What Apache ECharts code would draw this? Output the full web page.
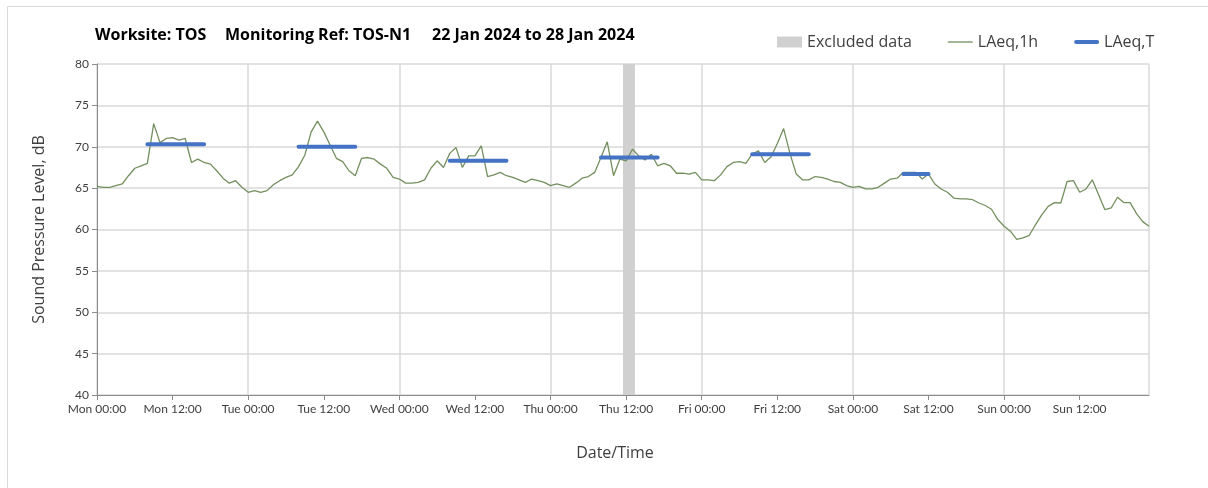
<!DOCTYPE html>
<html>
<head>
<meta charset="utf-8">
<script src="https://cdn.jsdelivr.net/npm/echarts@6/dist/echarts.min.js"></script>
<style>
html,body{margin:0;padding:0;background:#fff;}
#chart{width:1208px;height:488px;}
</style>
</head>
<body>
<div id="chart"></div>
<script>
// Tick labels every 12 hours from Mon 00:00
const tickLabels = ['Mon 00:00','Mon 12:00','Tue 00:00','Tue 12:00','Wed 00:00','Wed 12:00',
  'Thu 00:00','Thu 12:00','Fri 00:00','Fri 12:00','Sat 00:00','Sat 12:00','Sun 00:00','Sun 12:00'];

// Hourly LAeq,1h values (hour 0 = Mon 00:00)
const laeq1h = [
  65.2,65.1,65.1,65.3,65.5,66.5,67.4,67.7,68.0,72.8,70.5,71.0,71.1,70.8,71.0,68.1,68.5,68.1,67.9,67.1,66.2,65.6,65.9,65.1,
  64.5,64.7,64.5,64.7,65.4,65.9,66.3,66.6,67.6,69.0,71.8,73.1,71.8,70.2,68.6,68.2,67.1,66.5,68.6,68.7,68.5,67.9,67.4,66.3,
  66.1,65.6,65.6,65.7,66.0,67.4,68.3,67.5,69.2,69.9,67.5,68.9,68.9,70.1,66.4,66.6,66.9,66.5,66.3,66.0,65.7,66.1,65.9,65.7,
  65.3,65.5,65.3,65.1,65.6,66.2,66.4,66.9,68.7,70.6,66.5,68.5,68.3,69.7,68.9,68.4,69.1,67.7,68.0,67.7,66.8,66.8,66.7,66.9,
  66.0,66.0,65.9,66.6,67.6,68.1,68.2,68.0,69.1,69.5,68.1,68.8,70.4,72.2,69.2,66.7,66.0,66.0,66.4,66.3,66.1,65.8,65.7,65.3,
  65.1,65.2,64.9,64.9,65.1,65.6,66.1,66.2,66.9,66.9,66.9,66.1,66.7,65.5,64.9,64.5,63.8,63.7,63.7,63.6,63.2,62.9,62.45,61.2,
  60.4,59.8,58.8,59.0,59.3,60.6,61.8,62.8,63.25,63.2,65.8,65.9,64.5,64.9,66.0,64.2,62.4,62.6,63.9,63.25,63.25,61.95,60.95,60.4
];

// LAeq,T working-period levels (start hour, end hour, level)
const periodStart = [8, 32, 56, 80, 104, 128];
const periodEnd   = [17, 41, 65, 89, 113, 132];
const periodLevel = [70.3, 70.0, 68.3, 68.7, 69.1, 66.7];

// Excluded data window (hours)
const excludedStart = [83.5];
const excludedEnd   = [85.4];

const lineData = laeq1h.map((v, h) => [h, v]);
const periodData = [];
periodStart.forEach((s, i) => {
  if (i > 0) periodData.push(['-', '-']);
  periodData.push([s, periodLevel[i]]);
  periodData.push([periodEnd[i], periodLevel[i]]);
});
const excludedAreas = excludedStart.map((s, i) => [{xAxis: s}, {xAxis: excludedEnd[i]}]);

const FONT = 'Lato';
const FONT2 = 'Open Sans';
const titleStyle = {fontFamily: FONT2, fontSize: 16, fontWeight: 'bold', color: '#000'};
const chart = echarts.init(document.getElementById('chart'), null, {renderer: 'canvas'});
chart.setOption({
  animation: false,
  backgroundColor: '#fff',
  textStyle: {fontFamily: FONT},
  graphic: [{
    type: 'rect', left: 5, top: 4, silent: true, z: -10,
    shape: {x: 0, y: 0, width: 1220, height: 500},
    style: {fill: 'none', stroke: '#d9d9d9', lineWidth: 1}
  }],
  title: [
    {text: 'Worksite: TOS', left: 95, top: 27, padding: 0, textStyle: titleStyle},
    {text: 'Monitoring Ref: TOS-N1', left: 225, top: 27, padding: 0, textStyle: titleStyle},
    {text: '22 Jan 2024 to 28 Jan 2024', left: 432, top: 27, padding: 0, textStyle: titleStyle}
  ],
  legend: {
    left: 777, top: 34, padding: 0, itemWidth: 25, itemHeight: 11, itemGap: 36,
    textStyle: {fontFamily: FONT2, fontSize: 16, color: '#404040'},
    data: [
      {name: 'Excluded data', icon: 'rect', itemStyle: {color: '#d0d0d0'}},
      {name: 'LAeq,1h', icon: 'path://M0,0L25,0L25,1.3L0,1.3Z', itemStyle: {color: '#738f5f'}},
      {name: 'LAeq,T', icon: 'path://M2,0L23,0A2,2,0,0,1,23,4L2,4A2,2,0,0,1,2,0Z', itemStyle: {color: '#4472c4'}}
    ]
  },
  grid: {left: 97, right: 59, top: 64, bottom: 93, containLabel: false},
  xAxis: [{
    type: 'value', min: 0, max: 167, interval: 12,
    name: 'Date/Time', nameLocation: 'middle', nameGap: 50,
    nameTextStyle: {fontFamily: FONT2, fontSize: 16, color: '#404040', padding: [0, 16, 0, 0]},
    axisLine: {show: true, lineStyle: {color: '#8c8c8c', width: 1}},
    axisTick: {show: true, length: 5, lineStyle: {color: '#8c8c8c'}},
    axisLabel: {fontFamily: FONT, fontSize: 12, color: '#404040', margin: 8, showMaxLabel: false,
      formatter: v => (v % 12 === 0 ? (tickLabels[v / 12] || '') : '')},
    splitLine: {show: false}
  }, {
    type: 'value', min: 0, max: 167, interval: 24, position: 'bottom',
    axisLine: {show: false}, axisTick: {show: false}, axisLabel: {show: false},
    splitLine: {show: true, lineStyle: {color: '#d9d9d9', width: 1.5}}
  }],
  yAxis: {
    type: 'value', min: 40, max: 80, interval: 5,
    name: 'Sound Pressure Level, dB', nameLocation: 'middle', nameGap: 50, nameRotate: 90,
    nameTextStyle: {fontFamily: FONT2, fontSize: 16, color: '#404040'},
    axisLine: {show: true, lineStyle: {color: '#8c8c8c', width: 1}},
    axisTick: {show: true, length: 5, lineStyle: {color: '#8c8c8c'}},
    axisLabel: {fontFamily: FONT, fontSize: 12, color: '#404040', margin: 8},
    splitLine: {show: true, lineStyle: {color: '#d9d9d9', width: 1.5}}
  },
  series: [
    {
      name: 'Excluded data', type: 'line', data: [], color: '#d0d0d0', symbol: 'none',
      markArea: {silent: true, itemStyle: {color: '#d0d0d0', opacity: 1}, data: excludedAreas}, z: 1
    },
    {
      name: 'LAeq,1h', type: 'line', data: lineData, symbol: 'none', color: '#738f5f',
      lineStyle: {color: '#738f5f', width: 1.3}, z: 3
    },
    {
      name: 'LAeq,T', type: 'line', data: periodData, symbol: 'none', color: '#4472c4',
      connectNulls: false,
      lineStyle: {color: '#4472c4', width: 4, cap: 'round'}, z: 4
    }
  ]
});
</script>
</body>
</html>
